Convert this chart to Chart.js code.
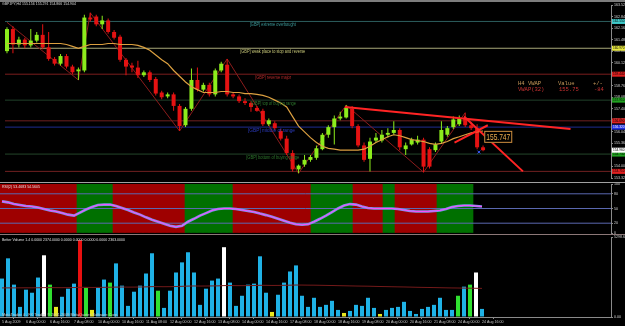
<!DOCTYPE html>
<html>
<head>
<meta charset="utf-8">
<title>GBPJPY,H4</title>
<script src="https://cdn.jsdelivr.net/npm/chart.js@4.4.1/dist/chart.umd.min.js"></script>
<style>
  html, body { margin: 0; padding: 0; background: #000; }
  #screen { position: relative; width: 625px; height: 326px; overflow: hidden; background: #000; }
  #screen canvas { position: absolute; left: 0; }
  .rule { position: absolute; left: 0; width: 625px; }
</style>
</head>
<body>
<div id="screen">
  <canvas id="priceChart" width="625" height="183" style="top:0"></canvas>
  <canvas id="rsiChart" width="625" height="51" style="top:183px"></canvas>
  <canvas id="volumeChart" width="625" height="92" style="top:234px"></canvas>
  <div class="rule" style="top:0;height:2px;background:#7d7d7d"></div>
  <div class="rule" style="top:182px;height:1px;background:#a0a0a0"></div>
  <div class="rule" style="top:234px;height:1px;background:#8c7878"></div>
</div>
<script>
// ---- data (GBPJPY H4, one entry per candle) ----
const dateLabels = ['5 Aug 2009', '6 Aug 00:00', '6 Aug 16:00', '7 Aug 08:00', '10 Aug 00:00', '10 Aug 16:00',
  '11 Aug 08:00', '12 Aug 00:00', '12 Aug 16:00', '13 Aug 08:00', '14 Aug 00:00', '14 Aug 16:00', '17 Aug 08:00',
  '18 Aug 00:00', '18 Aug 16:00', '19 Aug 08:00', '20 Aug 00:00', '20 Aug 16:00', '21 Aug 08:00', '24 Aug 00:00',
  '24 Aug 16:00'];

const opens = [160.80, 162.10, 161.19, 161.48, 161.14, 161.42, 161.76, 161.02, 160.34, 160.06,
  160.51, 159.89, 159.61, 159.66, 162.78, 162.84, 162.38, 162.61, 161.93, 161.65,
  160.29, 159.95, 159.83, 159.38, 159.55, 159.16, 158.36, 158.13, 158.25, 157.57,
  156.43, 157.40, 159.10, 158.53, 158.81, 158.25, 159.66, 160.00, 158.25, 158.13,
  157.85, 157.74, 157.45, 157.28, 156.49, 156.55, 156.09, 155.64, 154.79, 153.83,
  154.11, 154.39, 154.51, 155.02, 155.87, 156.32, 156.83, 156.89, 157.40, 156.38,
  155.24, 154.45, 155.53, 155.53, 155.87, 155.98, 156.15, 155.02, 155.30, 155.41,
  155.58, 155.02, 154.96, 155.47, 155.87, 156.32, 156.49, 156.83, 156.43, 156.26,
  155.13];
const highs = [162.21, 162.27, 161.65, 161.59, 162.10, 161.93, 162.38, 161.93, 160.46, 160.63,
  160.63, 160.00, 159.83, 162.95, 163.06, 162.95, 162.89, 162.72, 162.04, 161.76,
  160.40, 160.12, 160.23, 159.66, 159.66, 159.27, 158.47, 158.36, 158.36, 157.68,
  157.51, 159.78, 159.83, 158.93, 158.93, 159.78, 160.17, 160.34, 158.36, 158.25,
  158.02, 157.85, 157.57, 157.40, 156.83, 156.66, 156.21, 155.81, 154.96, 154.11,
  154.68, 154.68, 155.24, 155.98, 156.43, 157.00, 157.23, 157.62, 157.57, 156.49,
  155.41, 155.70, 155.98, 156.15, 156.26, 156.66, 156.26, 155.41, 155.70, 155.81,
  155.70, 155.13, 155.41, 156.66, 156.38, 156.94, 157.00, 157.17, 156.60, 156.49,
  155.24];
const lows = [160.68, 160.68, 161.02, 160.97, 161.02, 161.31, 160.91, 160.23, 159.95, 159.95,
  159.78, 159.44, 159.10, 159.55, 162.55, 162.27, 162.10, 161.82, 161.48, 160.17,
  159.38, 159.55, 159.21, 159.27, 158.98, 158.19, 157.96, 158.02, 157.28, 156.09,
  156.32, 157.28, 158.42, 158.42, 158.13, 158.13, 159.55, 158.13, 158.02, 157.74,
  157.62, 157.23, 157.23, 156.38, 156.38, 156.15, 155.53, 154.68, 153.71, 153.60,
  153.99, 154.28, 154.39, 154.96, 155.70, 155.30, 156.72, 156.83, 156.26, 155.13,
  154.28, 153.71, 155.41, 155.41, 155.70, 155.87, 154.96, 154.68, 155.24, 155.30,
  153.66, 153.88, 154.85, 155.36, 155.75, 156.21, 156.38, 156.32, 156.15, 155.02,
  154.90];
const closes = [162.10, 161.19, 161.48, 161.14, 161.42, 161.76, 161.02, 160.34, 160.06, 160.51,
  159.89, 159.55, 159.72, 162.78, 162.67, 162.38, 162.61, 161.93, 161.59, 160.29,
  159.89, 159.83, 159.38, 159.55, 159.10, 158.30, 158.08, 158.25, 157.57, 156.38,
  157.40, 159.10, 158.53, 158.81, 158.25, 159.66, 160.06, 158.25, 158.13, 157.85,
  157.74, 157.51, 157.28, 156.49, 156.72, 156.26, 155.64, 154.79, 153.83, 154.05,
  154.39, 154.56, 155.07, 155.87, 156.32, 156.83, 156.94, 157.45, 156.38, 155.24,
  154.39, 155.47, 155.70, 155.87, 155.98, 156.15, 155.13, 155.24, 155.58, 155.58,
  153.99, 153.99, 155.30, 156.15, 156.26, 156.77, 156.83, 156.43, 156.26, 155.13,
  154.96];
// moving average drawn in orange over the candles
const maPrice = [161.25, 161.25, 161.25, 161.25, 161.25, 161.25, 161.25, 161.25, 161.25, 161.25,
  161.19, 161.08, 160.97, 161.08, 161.19, 161.19, 161.19, 161.25, 161.25, 161.19,
  161.19, 161.19, 161.14, 161.02, 160.85, 160.57, 160.29, 160.06, 159.66, 159.32,
  158.98, 158.70, 158.53, 158.36, 158.36, 158.36, 158.42, 158.42, 158.36, 158.36,
  158.30, 158.30, 158.25, 158.19, 158.08, 157.91, 157.74, 157.51, 156.94, 156.38,
  156.04, 155.70, 155.41, 155.19, 155.07, 155.02, 154.96, 154.96, 154.96, 154.96,
  155.02, 155.19, 155.41, 155.58, 155.75, 155.87, 155.81, 155.70, 155.58, 155.53,
  155.47, 155.36, 155.30, 155.36, 155.47, 155.64, 155.75, 155.87, 155.98, 156.04,
  156.09];

// zigzag swing points (candle index, price)
const zigIndex = [0, 12, 14, 29, 37, 49, 57, 70, 77];
const zigPrice = [162.50, 159.10, 163.06, 156.09, 160.34, 153.60, 157.62, 153.66, 157.17];

// hand-drawn trend lines: [startIndex, startPrice, endIndex, endPrice]
const trendLines = [
  [56.8, 157.51, 94.7, 156.21],
  [76.8, 156.94, 86.7, 153.71],
  [75.2, 155.41, 80.8, 156.43]
];

// horizontal levels
const levelPrices = [162.55, 160.97, 159.44, 157.91, 156.69, 156.32, 154.73, 153.71];
const levelNames = ['[GBP] extreme overbought', '[GBP] weak place to stop and reverse', '[GBP] reverse major',
  '[GBP] top of buying range', '', '[GBP] middle of range', '[GBP] bottom of buying range', ''];
const markedPrice = 155.747;
const crossMark = [79.3, 154.85];
const priceTicks = [163.52, 162.84, 162.16, 161.48, 160.80, 160.12, 159.44, 158.76, 158.08, 157.40,
  156.72, 156.04, 155.36, 154.68, 154.00, 153.32];

// RSI(2) pane
const rsiValues = [64.6, 62.5, 59, 57, 55, 54, 52, 49, 46, 44,
  41, 37.5, 35.5, 41.6, 48, 53, 57, 58, 58, 55,
  51, 47, 42, 37.5, 32, 27, 23, 19, 14.6, 12.5,
  14.6, 23, 29, 35.4, 40.6, 46, 49, 50, 50, 49,
  47, 45, 43, 39.6, 36.5, 33, 29, 25, 21, 17.7,
  16.7, 17.7, 23, 29, 35.4, 42.7, 50, 56, 59, 58,
  54, 51, 50, 50, 50, 50, 49, 47, 45, 44,
  44, 44, 45, 46, 49, 53, 55, 56, 56, 55,
  54];
const rsiZone = ['d', 'd', 'd', 'd', 'd', 'd', 'd', 'd', 'd', 'd',
  'd', 'd', 'd', 'u', 'u', 'u', 'u', 'u', 'u', 'd',
  'd', 'd', 'd', 'd', 'd', 'd', 'd', 'd', 'd', 'd',
  'd', 'u', 'u', 'u', 'u', 'u', 'u', 'u', 'u', 'd',
  'd', 'd', 'd', 'd', 'd', 'd', 'd', 'd', 'd', 'd',
  'd', 'd', 'u', 'u', 'u', 'u', 'u', 'u', 'u', 'd',
  'd', 'd', 'd', 'd', 'u', 'u', 'd', 'd', 'd', 'd',
  'd', 'd', 'd', 'u', 'u', 'u', 'u', 'u', 'u', '',
  ''];
const rsiLevels = [20, 50, 80];
const rsiTicks = [0, 20, 50, 80, 100];

// Better Volume pane
const volumes = [2546, 3886, 2144, 670, 1809, 1608, 2613, 4087, 2144, 670,
  1340, 1876, 2211, 5092, 1943, 469, 1943, 2479, 2278, 3551,
  2077, 737, 1675, 2077, 2881, 4221, 1742, 603, 1742, 2948,
  3618, 4288, 2948, 804, 1876, 2412, 2546, 4623, 2278, 737,
  1407, 2144, 2211, 4020, 1608, 335, 1474, 2278, 3015, 3417,
  1407, 670, 1273, 670, 804, 1072, 469, 268, 402, 804,
  737, 1273, 603, 201, 469, 603, 670, 1005, 402, 201,
  536, 670, 804, 1273, 469, 469, 1407, 2010, 2144, 2948,
  536];
// n normal, w climax down, r climax up, g churn, y low volume
const volKind = ['n', 'n', 'n', 'n', 'n', 'n', 'n', 'w', 'g', 'y',
  'n', 'n', 'n', 'r', 'g', 'y', 'n', 'n', 'g', 'n',
  'n', 'n', 'n', 'n', 'n', 'n', 'g', 'n', 'n', 'n',
  'n', 'n', 'n', 'n', 'n', 'n', 'n', 'w', 'n', 'n',
  'n', 'n', 'n', 'n', 'n', 'y', 'n', 'n', 'n', 'n',
  'n', 'n', 'n', 'n', 'n', 'n', 'n', 'y', 'n', 'n',
  'n', 'n', 'n', 'y', 'n', 'n', 'n', 'n', 'n', 'n',
  'n', 'n', 'n', 'n', 'n', 'n', 'g', 'n', 'g', 'w',
  'n'];
const volAverage = [1925, 1930, 1928, 1932, 1935, 1933, 1938, 1945, 1947, 1944,
  1942, 1946, 1950, 1968, 1965, 1958, 1960, 1966, 1970, 1980,
  1985, 1978, 1980, 1986, 1995, 2012, 2010, 2005, 2008, 2020,
  2032, 2048, 2055, 2050, 2052, 2058, 2062, 2080, 2082, 2078,
  2076, 2080, 2084, 2100, 2098, 2090, 2092, 2098, 2108, 2118,
  2115, 2110, 2108, 2100, 2092, 2086, 2076, 2068, 2060, 2052,
  2045, 2040, 2030, 2020, 2012, 2004, 1996, 1990, 1980, 1970,
  1962, 1955, 1948, 1940, 1932, 1924, 1920, 1914, 1908, 1902,
  1895];
const volumeTicks = [0, 5298.64];

// ---- styling ----
Chart.defaults.font.family = 'Liberation Sans';
const UP = '#8cec1c', DOWN = '#e41212';
const levelColors = ['#2c5e5e', '#a8a878', '#7c1e1e', '#20402a', '#702020', '#1e2c90', '#24462a', '#702020'];
const captionColors = ['#3c9c9c', '#c8c878', '#b42a2a', '#2f7a2f', '', '#2c3cc0', '#2f7a2f', ''];
const captionAt = [40.8, 39.2, 41.7, 41, 0, 40.5, 40.2, 0];
const captionWidth = [46, 65, 36, 45, 0, 47, 53, 0];
const tagColors = ['#3ec8c8', '#e8e840', '#e02020', '#20a020', '#e02020', '#2030e0', '#20a020', '#e02020'];
const zoneColors = { d: '#9e0000', u: '#007000', '': 'rgba(0,0,0,0)' };
const kindColors = { n: '#1fb2e6', w: '#ffffff', r: '#e81010', g: '#30e030', y: '#e8e820' };

const bars = opens.map((_, i) => i);
const candleColor = bars.map(i => closes[i] >= opens[i] ? UP : DOWN);

function timeAxis(show) {
  return {
    type: 'linear', min: -0.333, max: 101.5, offset: false, bounds: 'data', display: show,
    grid: { display: false }
  };
}

function sideAxis(min, max, values, fmt) {
  return {
    type: 'linear', position: 'right', min: min, max: max, bounds: 'data', beginAtZero: false,
    afterBuildTicks: s => { s.ticks = values.map(v => ({ value: v })); },
    afterFit: s => { s.width = 14; s.paddingTop = 0; s.paddingBottom = 0; },
    ticks: { color: '#d4d4d4', font: { size: 3.6 }, padding: 1, callback: fmt },
    grid: { drawOnChartArea: false, drawTicks: true, tickLength: 2, color: '#8a8a8a' },
    border: { display: true, color: '#8a8a8a' }
  };
}

function flatLine(value, color, order) {
  return {
    type: 'line', data: [{ x: -1, y: value }, { x: 102, y: value }],
    borderColor: color, borderWidth: 1, pointRadius: 0, order: order
  };
}

const baseOptions = {
  responsive: false, animation: false, events: [],
  plugins: { legend: { display: false }, tooltip: { enabled: false } }
};

// ---- price pane ----
const priceNotes = {
  id: 'priceNotes',
  afterDraw(chart) {
    const { ctx, chartArea } = chart;
    const x = chart.scales.x, y = chart.scales.y;
    ctx.save();
    ctx.textBaseline = 'top';
    ctx.textAlign = 'left';
    ctx.font = '4px "Liberation Sans"';
    ctx.fillStyle = '#d8d8d8';
    ctx.fillText('GBPJPY,H4 155.156 155.291 154.866 154.904', 2, 2, 74);

    ctx.font = '5px "Liberation Sans"';
    levelNames.forEach((name, k) => {
      if (!name) return;
      ctx.fillStyle = captionColors[k];
      ctx.fillText(name, x.getPixelForValue(captionAt[k]), y.getPixelForValue(levelPrices[k]) + 1, captionWidth[k]);
    });

    // VWAP table
    ctx.font = '5.5px "Liberation Mono"';
    ctx.fillStyle = '#c89a5a';
    ctx.fillText('H4 VWAP', 518, 81);
    ctx.fillText('Value', 558, 81);
    ctx.fillText('+/-', 593, 81);
    ctx.fillStyle = '#c83232';
    ctx.fillText('VWAP(32)', 518, 87);
    ctx.fillText('155.75', 559, 87);
    ctx.fillText('-84', 594, 87);

    // marked price label
    const bx = x.getPixelForValue(80.2), by = y.getPixelForValue(markedPrice);
    ctx.fillStyle = '#000';
    ctx.fillRect(bx, by - 6, 28, 12);
    ctx.strokeStyle = '#d09040';
    ctx.lineWidth = 1;
    ctx.strokeRect(bx + 0.5, by - 5.5, 27, 11);
    ctx.fillStyle = '#f0b050';
    ctx.textBaseline = 'middle';
    ctx.font = '9px "Liberation Sans"';
    ctx.fillText(markedPrice.toFixed(3), bx + 2, by + 0.5, 24);

    // price tags on the right axis
    const tags = levelPrices.map((p, k) => ({ p: p, bg: tagColors[k] }));
    tags.push({ p: closes[closes.length - 1], bg: '#ffffff' });
    ctx.font = '3.6px "Liberation Sans"';
    tags.forEach(t => {
      const ty = y.getPixelForValue(t.p);
      ctx.fillStyle = t.bg;
      ctx.fillRect(chartArea.right + 1, ty - 2.5, 13, 5);
      ctx.fillStyle = t.bg === '#2030e0' ? '#ffffff' : '#000000';
      ctx.fillText(t.p.toFixed(3), chartArea.right + 2, ty, 11.5);
    });
    ctx.restore();
  }
};

const priceSets = levelPrices.map((p, k) => flatLine(p, levelColors[k], 10));
priceSets.push({
  type: 'line', data: zigIndex.map((v, k) => ({ x: v, y: zigPrice[k] })),
  borderColor: '#8c1c1c', borderWidth: 1, pointRadius: 0, order: 7
});
priceSets.push({
  type: 'bar', data: bars.map(i => ({ x: i, y: [lows[i], highs[i]] })),
  backgroundColor: candleColor, barThickness: 1, grouped: false, inflateAmount: 0, order: 6
});
priceSets.push({
  type: 'bar', data: bars.map(i => ({ x: i, y: [opens[i], closes[i]] })),
  backgroundColor: candleColor, barThickness: 4, grouped: false, minBarLength: 1, inflateAmount: 0, order: 5
});
priceSets.push({
  type: 'line', data: bars.map(i => ({ x: i, y: maPrice[i] })),
  borderColor: '#dca040', borderWidth: 1.2, pointRadius: 0, order: 3
});
trendLines.forEach(t => priceSets.push({
  type: 'line', data: [{ x: t[0], y: t[1] }, { x: t[2], y: t[3] }],
  borderColor: '#ff2424', borderWidth: 2, pointRadius: 0, order: 2
}));
priceSets.push({
  type: 'line', data: [{ x: crossMark[0], y: crossMark[1] }], showLine: false,
  pointStyle: 'crossRot', pointRadius: 2, borderColor: '#3a5cff', borderWidth: 1, order: 1
});

new Chart(document.getElementById('priceChart'), {
  type: 'bar',
  data: { datasets: priceSets },
  options: Object.assign({}, baseOptions, {
    layout: { padding: { top: 2, bottom: 1, left: 0, right: 0 } },
    scales: {
      x: timeAxis(false),
      y: sideAxis(153.32, 163.52, priceTicks, v => v.toFixed(3))
    }
  }),
  plugins: [priceNotes]
});

// ---- RSI pane ----
const rsiNotes = {
  id: 'rsiNotes',
  afterDraw(chart) {
    const ctx = chart.ctx;
    ctx.save();
    ctx.textBaseline = 'top';
    ctx.font = '4px "Liberation Sans"';
    ctx.fillStyle = '#e0e0e0';
    ctx.fillText('RSI(2) 53.4683 54.5605', 2, 2, 38);
    ctx.restore();
  }
};

const rsiSets = [{
  type: 'bar', data: bars.map(i => ({ x: i, y: 100 })),
  backgroundColor: bars.map(i => zoneColors[rsiZone[i]]), barThickness: 6, grouped: false, order: 10
}];
rsiLevels.forEach(v => rsiSets.push(flatLine(v, '#5a68b0', 5)));
rsiSets.push({
  type: 'line', data: bars.map(i => ({ x: i, y: rsiValues[i] })),
  borderColor: '#7896e8', borderWidth: 2.6, pointRadius: 0, order: 2
});
rsiSets.push({
  type: 'line', data: bars.map(i => ({ x: i, y: rsiValues[i] })),
  borderColor: '#ff4cff', borderWidth: 1, pointRadius: 0, order: 1
});

new Chart(document.getElementById('rsiChart'), {
  type: 'bar',
  data: { datasets: rsiSets },
  options: Object.assign({}, baseOptions, {
    layout: { padding: { top: 1, bottom: 1, left: 0, right: 0 } },
    scales: {
      x: timeAxis(false),
      y: sideAxis(0, 100, rsiTicks, v => String(v))
    }
  }),
  plugins: [rsiNotes]
});

// ---- volume pane ----
const volumeNotes = {
  id: 'volumeNotes',
  afterDraw(chart) {
    const ctx = chart.ctx;
    ctx.save();
    ctx.textBaseline = 'top';
    ctx.font = '4px "Liberation Sans"';
    ctx.fillStyle = '#e0e0e0';
    ctx.fillText('Better Volume 1.4 0.0000 2374.0000 0.0000 0.0000 0.0000 0.0000 2363.0000', 2, 4, 123);
    ctx.fillStyle = '#c8c8c8';
    ctx.fillText('MetaTrader 4 - FX Trader, \u00a9 2001-2009 MetaQuotes Software Corp.', 2, 79, 116);
    ctx.restore();
  }
};

const timeX = timeAxis(true);
Object.assign(timeX, {
  afterBuildTicks: s => { s.ticks = dateLabels.map((_, k) => ({ value: k * 4 })); },
  afterFit: s => { s.height = 9; s.paddingLeft = 0; s.paddingRight = 0; },
  ticks: {
    autoSkip: false, maxRotation: 0, minRotation: 0, align: 'start', padding: 1,
    color: '#c8c8c8', font: { size: 3.6 }, callback: v => dateLabels[Math.round(v / 4)]
  },
  grid: { drawOnChartArea: false, drawTicks: true, tickLength: 2, color: '#8a8a8a' },
  border: { display: true, color: '#8a8a8a' }
});

new Chart(document.getElementById('volumeChart'), {
  type: 'bar',
  data: {
    datasets: [{
      type: 'bar', data: bars.map(i => ({ x: i, y: volumes[i] })),
      backgroundColor: bars.map(i => kindColors[volKind[i]]), barThickness: 4, grouped: false,
      inflateAmount: 0, order: 2
    }, {
      type: 'line', data: bars.map(i => ({ x: i, y: volAverage[i] })),
      borderColor: '#741a1a', borderWidth: 1, pointRadius: 0, order: 1
    }]
  },
  options: Object.assign({}, baseOptions, {
    layout: { padding: { top: 3, bottom: 0, left: 0, right: 0 } },
    scales: {
      x: timeX,
      y: sideAxis(0, 5298.64, volumeTicks, v => v.toFixed(2))
    }
  }),
  plugins: [volumeNotes]
});
</script>
</body>
</html>
